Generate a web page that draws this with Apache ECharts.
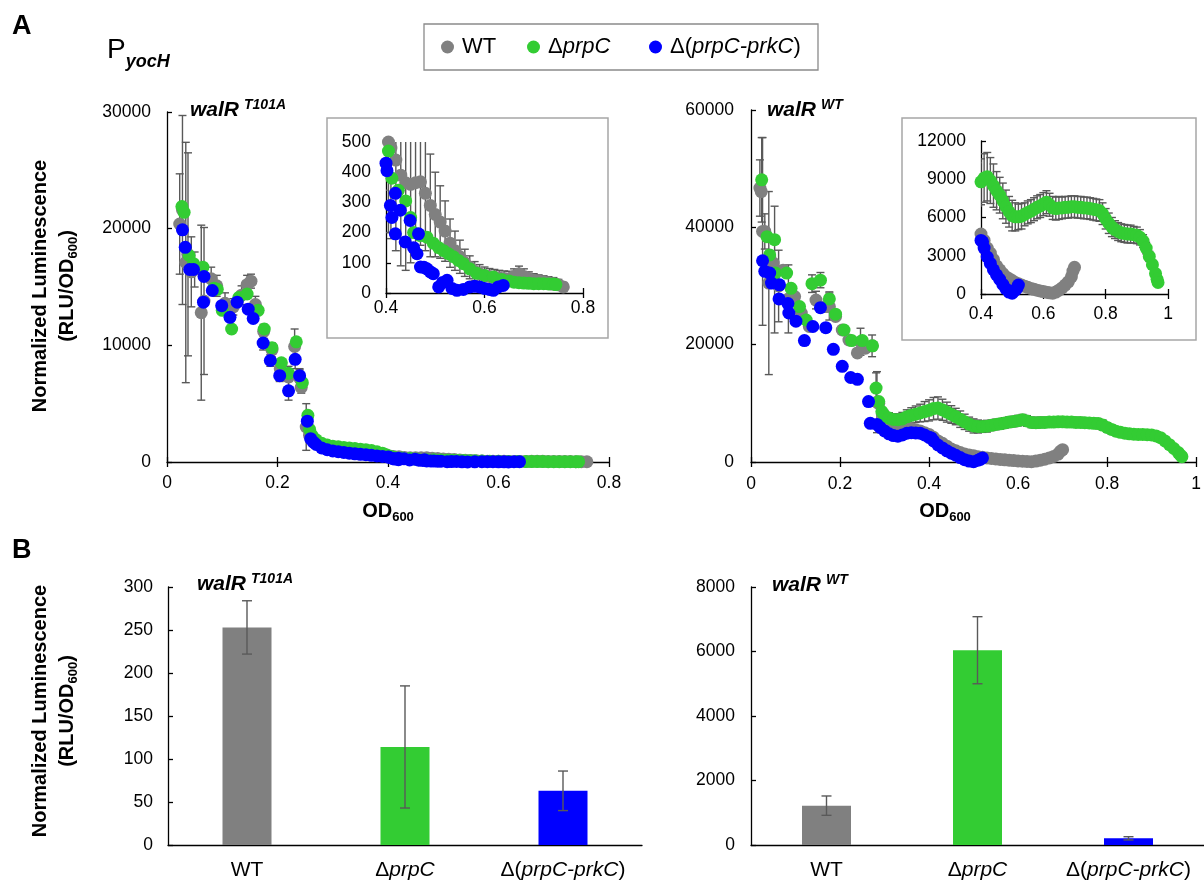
<!DOCTYPE html>
<html><head><meta charset="utf-8">
<script src="https://cdn.jsdelivr.net/npm/echarts@6/dist/echarts.min.js"></script>
<style>html,body{margin:0;padding:0;background:#fff}#c{width:1204px;height:884px}</style>
</head><body><div id="c"></div>
<script>
const FAMILY = '"Liberation Sans", Arial, sans-serif';
const COLORS = ['#808080', '#33cc33', '#0000ff'];
const seriesNames = ['WT', 'ΔprpC', 'Δ(prpC-prkC)'];

// Panel A, walR T101A : [OD600, normalized luminescence, error]
const t101aWT = [[0.023,20400,4300],[0.028,21600,8100],[0.034,17100,10300],[0.038,17800,8700],[0.044,16300,3000],[0.050,16500,1500],[0.062,12800,7500],[0.067,13800,6300],[0.080,15700,1000],[0.090,15100,900],[0.105,13600,900],[0.120,13300,700],[0.135,14300,800],[0.145,15200,800],[0.152,15500,600],[0.160,13500,700],[0.175,11200,600],[0.190,9600,600],[0.205,8000,600],[0.220,7300,900],[0.231,9900,1500],[0.240,7200,700],[0.243,6400,500],[0.252,3000,2000],[0.258,2300,600],
[0.265,1900,400],[0.275,1600,400],[0.285,1400,350],[0.295,1250,300],[0.305,1150,300],[0.315,1100,300],[0.325,1050,300],[0.335,1000,250],[0.345,960,250],[0.355,920,250],[0.365,870,250],[0.375,800,250],[0.385,720,260],[0.395,620,280],[0.405,500,300],[0.410,480,300],[0.420,440,300],[0.430,390,300],[0.440,365,290],[0.450,360,260],[0.460,365,230],[0.470,368,210],[0.480,330,190],[0.490,290,170],[0.500,260,140],[0.510,235,120],[0.520,205,100],[0.530,165,80],[0.540,140,65],[0.550,120,55],[0.560,100,45],[0.570,85,38],[0.580,72,32],[0.590,64,30],[0.600,58,28],[0.610,55,26],[0.620,53,25],[0.630,50,25],[0.640,48,25],[0.650,47,25],[0.660,55,25],[0.670,64,25],[0.680,55,25],[0.690,48,22],[0.700,42,22],[0.710,40,20],[0.720,37,20],[0.730,34,20],[0.740,31,20],[0.750,27,18],[0.760,20,15]];
const t101aPrpC = [[0.027,21900,0],[0.031,21400,0],[0.040,17700,0],[0.048,17000,0],[0.065,16700,0],[0.085,14900,0],[0.091,14800,0],[0.100,13000,0],[0.117,11400,0],[0.130,14100,0],[0.145,14400,0],[0.165,13000,0],[0.176,11400,0],[0.190,9800,0],[0.207,8500,0],[0.220,7600,0],[0.234,10300,0],[0.245,6800,0],[0.255,4000,0],[0.258,2800,0],
[0.262,2300,0],[0.270,1900,0],[0.280,1600,0],[0.290,1450,0],[0.300,1350,0],[0.310,1300,0],[0.320,1250,0],[0.330,1200,0],[0.340,1150,0],[0.350,1100,0],[0.360,1050,0],[0.370,980,0],[0.380,880,0],[0.390,760,0],[0.398,600,0],[0.405,470,0],[0.412,380,0],[0.425,340,0],[0.440,305,0],[0.450,250,0],[0.456,200,0],[0.470,190,0],[0.483,185,0],[0.496,165,0],[0.507,150,0],[0.517,140,0],[0.527,130,0],[0.537,120,0],[0.547,108,0],[0.557,97,0],[0.570,80,0],[0.584,65,0],[0.600,58,0],[0.618,53,0],[0.635,45,0],[0.650,40,0],[0.660,36,0],[0.670,34,0],[0.680,33,0],[0.690,32,0],[0.700,31,0],[0.710,31,0],[0.720,31,0],[0.730,30,0],[0.740,30,0],[0.745,28,0]];
const t101aPrpCPrkC = [[0.028,19900,0],[0.033,18400,0],[0.041,16500,0],[0.048,16500,0],[0.066,13700,0],[0.067,15900,0],[0.082,14700,0],[0.099,13400,0],[0.114,12400,0],[0.127,13700,0],[0.147,13100,0],[0.156,12300,0],[0.174,10200,600],[0.187,8700,500],[0.204,7400,500],[0.220,6100,800],[0.232,8800,800],[0.240,7400,600],[0.254,3500,0],[0.260,2000,0],
[0.265,1700,0],[0.270,1500,0],[0.280,1200,0],[0.290,1050,0],[0.300,950,0],[0.310,880,0],[0.320,820,0],[0.330,760,0],[0.340,700,0],[0.350,660,0],[0.360,620,0],[0.370,570,0],[0.380,520,0],[0.390,470,0],[0.400,430,0],[0.402,405,0],[0.409,290,0],[0.412,250,0],[0.419,330,0],[0.419,196,0],[0.429,274,0],[0.439,169,0],[0.449,240,0],[0.456,150,0],[0.463,130,0],[0.466,196,0],[0.470,86,0],[0.477,85,0],[0.483,80,0],[0.490,70,0],[0.496,64,0],[0.507,20,0],[0.515,35,0],[0.524,42,0],[0.534,15,0],[0.544,9,0],[0.557,12,0],[0.570,20,0],[0.580,22,0],[0.590,20,0],[0.600,15,0],[0.610,12,0],[0.618,9,0],[0.628,20,0],[0.638,25,0]];

// Panel A, walR WT : [OD600, normalized luminescence, error]
const wtWT = [[0.020,46700,4800],[0.023,46100,0],[0.026,39300,16000],[0.031,39300,3000],[0.040,30500,15600],[0.042,35000,0],[0.050,33900,0],[0.053,32800,10800],[0.062,30000,6100],[0.072,32700,0],[0.084,27800,5800],[0.098,28200,0],[0.113,25400,0],[0.131,23100,0],[0.146,27600,1500],[0.168,26500,0],[0.176,26500,2300],[0.190,24800,0],[0.205,22500,0],[0.220,20800,0],[0.239,18600,0],[0.246,20500,2300],[0.257,19400,0],[0.272,19800,1850],[0.283,10200,5200],[0.287,10000,0],
[0.295,8200,0],[0.300,7500,0],[0.310,6800,0],[0.320,6400,0],[0.330,6100,0],[0.340,6000,0],[0.350,5900,0],[0.360,5700,0],[0.370,5500,0],[0.380,5300,0],[0.390,5000,0],[0.400,4700,0],[0.410,4200,0],[0.420,3600,0],[0.430,3200,0],[0.440,2700,0],[0.450,2200,0],[0.460,1900,0],[0.470,1600,0],[0.480,1350,0],[0.490,1200,0],[0.500,1050,0],[0.510,900,0],[0.520,800,0],[0.530,700,0],[0.540,600,0],[0.550,520,0],[0.560,440,0],[0.570,370,0],[0.580,300,0],[0.590,240,0],[0.600,190,0],[0.610,140,0],[0.620,90,0],[0.630,60,0],[0.640,150,0],[0.650,300,0],[0.660,480,0],[0.670,700,0],[0.680,950,0],[0.690,1350,0],[0.695,1800,0],[0.700,2100,0]];
const wtPrpC = [[0.024,48100,7200],[0.036,38400,0],[0.042,35300,0],[0.053,37900,0],[0.055,32200,0],[0.080,32200,0],[0.090,29600,0],[0.109,26500,0],[0.124,24200,0],[0.137,30400,1500],[0.156,31000,1300],[0.176,27800,1200],[0.190,25200,0],[0.209,22500,0],[0.226,20700,0],[0.250,20700,0],[0.273,19800,0],[0.281,12600,2600],[0.287,10300,0],[0.294,8600,0],
[0.300,7900,900],[0.310,7500,900],[0.320,7250,900],[0.330,7200,1000],[0.340,7350,1100],[0.350,7700,1200],[0.360,7950,1300],[0.370,8150,1400],[0.380,8350,1500],[0.390,8600,1700],[0.400,8800,1800],[0.410,9100,1900],[0.420,9200,1900],[0.430,8900,1800],[0.440,8500,1700],[0.450,8100,1500],[0.460,7750,1400],[0.470,7300,1400],[0.480,6850,1300],[0.490,6450,1200],[0.500,6150,1200],[0.510,6050,1100],[0.520,6050,1000],[0.530,6100,1000],[0.540,6250,900],[0.550,6400,900],[0.560,6500,900],[0.570,6650,900],[0.580,6800,900],[0.590,6900,900],[0.600,7050,900],[0.610,7200,900],[0.620,7000,900],[0.630,6750,900],[0.640,6700,900],[0.650,6750,900],[0.660,6750,850],[0.670,6800,850],[0.680,6800,850],[0.690,6850,850],[0.700,6850,850],[0.710,6800,850],[0.720,6800,850],[0.730,6750,850],[0.740,6750,850],[0.750,6700,850],[0.760,6650,850],[0.770,6600,850],[0.780,6550,850],[0.790,6300,850],[0.800,5900,800],[0.810,5550,800],[0.820,5250,750],[0.830,5050,700],[0.840,4900,700],[0.850,4800,700],[0.860,4750,700],[0.870,4700,700],[0.880,4700,700],[0.890,4650,650],[0.900,4600,650],[0.910,4450,600],[0.920,4150,500],[0.930,3600,450],[0.940,2950,400],[0.950,2300,350],[0.960,1600,300],[0.965,1150,250],[0.968,900,200]];
const wtPrpCPrkC = [[0.026,34300,0],[0.031,32500,0],[0.042,32200,0],[0.046,30500,0],[0.063,27800,0],[0.064,30200,0],[0.083,27000,0],[0.085,25400,0],[0.101,24000,0],[0.120,20700,0],[0.139,23100,0],[0.156,26300,0],[0.168,22900,0],[0.185,19200,0],[0.205,16300,0],[0.224,14400,0],[0.239,14100,0],[0.264,10300,0],[0.268,6600,0],[0.283,6400,0],
[0.290,5900,0],[0.300,5300,0],[0.310,4800,0],[0.320,4500,0],[0.330,4400,0],[0.340,4600,0],[0.350,4900,0],[0.360,5000,0],[0.370,4950,0],[0.380,4900,0],[0.390,4600,0],[0.400,4200,0],[0.405,4100,0],[0.410,3600,0],[0.420,2900,0],[0.430,2400,0],[0.440,1900,0],[0.450,1500,0],[0.460,1150,0],[0.470,750,0],[0.480,400,0],[0.490,150,0],[0.500,60,0],[0.510,300,0],[0.515,450,0],[0.520,700,0]];

// Panel B
const barCategories = ['WT', 'ΔprpC', 'Δ(prpC-prkC)'];
const barT101AMean = [253, 114, 63];
const barT101AErr = [31, 71, 23];
const barWTMean = [1220, 6040, 207];
const barWTErr = [300, 1040, 50];

// axis ranges [min, max, interval]
const xMainT101A = [0, 0.8, 0.2], yMainT101A = [0, 30000, 10000];
const xInsetT101A = [0.4, 0.8, 0.2], yInsetT101A = [0, 500, 100];
const xMainWT = [0, 1, 0.2], yMainWT = [0, 60000, 20000];
const xInsetWT = [0.4, 1, 0.2], yInsetWT = [0, 12000, 3000];
const yBarT101A = [0, 300, 50], yBarWT = [0, 8000, 2000];

const mctx = document.createElement('canvas').getContext('2d');
function measure(t, size, weight, style) {
  mctx.font = (style || 'normal') + ' ' + (weight || 'normal') + ' ' + size + 'px ' + FAMILY;
  return mctx.measureText(t).width;
}
// parts: [text, size, weight, style, dy, dxBefore]
function runText(parts, x, baseline, align) {
  let total = 0;
  parts.forEach(p => { total += (p[5] || 0) + measure(p[0], p[1], p[2], p[3]); });
  let cx = align === 'center' ? x - total / 2 : x;
  const els = [];
  parts.forEach(p => {
    cx += (p[5] || 0);
    els.push({
      type: 'text', x: cx, y: baseline + (p[4] || 0) - 0.35 * p[1], silent: true,
      style: { text: p[0], fontSize: p[1], fontWeight: p[2] || 'normal', fontStyle: p[3] || 'normal',
        fontFamily: FAMILY, fill: '#000', align: 'left', verticalAlign: 'middle',
        textAlign: 'left', textVerticalAlign: 'middle' }
    });
    cx += measure(p[0], p[1], p[2], p[3]);
  });
  return els;
}

const LS = { color: '#000', width: 1.3 };
function xPair(grid, r, margin) {
  return [
    { type: 'value', gridIndex: grid, min: r[0], max: r[1], interval: r[2], position: 'bottom',
      axisLine: { show: true, onZero: false, lineStyle: LS },
      axisTick: { show: true, inside: false, length: 5, lineStyle: LS },
      axisLabel: { show: true, margin: margin, fontSize: 17.5, fontFamily: FAMILY, color: '#000',
        formatter: v => String(Math.round(v * 10) / 10) },
      splitLine: { show: false } },
    { type: 'value', gridIndex: grid, min: r[0], max: r[1], interval: r[2], position: 'bottom',
      axisLine: { show: false, onZero: false },
      axisTick: { show: true, inside: true, length: 5, lineStyle: LS },
      axisLabel: { show: false }, splitLine: { show: false } }
  ];
}
function yAx(grid, r, margin) {
  return { type: 'value', gridIndex: grid, min: r[0], max: r[1], interval: r[2], position: 'left',
    axisLine: { show: true, onZero: false, lineStyle: LS },
    axisTick: { show: true, inside: true, length: 5, lineStyle: LS },
    axisLabel: { margin: margin, fontSize: 17.5, fontFamily: FAMILY, color: '#000',
      formatter: v => String(Math.round(v)) },
    splitLine: { show: false } };
}
function richName(n) {
  if (n === 'WT') return '{n|WT}';
  if (n === 'ΔprpC') return '{n|Δ}{i|prpC}';
  return '{n|Δ(}{i|prpC-prkC}{n|)}';
}
function errRender(capHalf) {
  return function (params, api) {
    const x = api.value(0), y = api.value(1), e = api.value(2);
    const p1 = api.coord([x, y + e]), p2 = api.coord([x, y - e]);
    const st = { stroke: '#595959', lineWidth: 1.4, fill: null };
    return { type: 'group', children: [
      { type: 'line', shape: { x1: p1[0], y1: p1[1], x2: p2[0], y2: p2[1] }, style: st },
      { type: 'line', shape: { x1: p1[0] - capHalf, y1: p1[1], x2: p1[0] + capHalf, y2: p1[1] }, style: st },
      { type: 'line', shape: { x1: p2[0] - capHalf, y1: p2[1], x2: p2[0] + capHalf, y2: p2[1] }, style: st }
    ] };
  };
}

const grids = [
  { left: 167, top: 112, width: 442, height: 350 },
  { left: 386, top: 142, width: 197, height: 151 },
  { left: 751, top: 110, width: 450, height: 352 },
  { left: 981, top: 141, width: 187, height: 153 },
  { left: 168, top: 587, width: 474, height: 258 },
  { left: 751, top: 587, width: 466, height: 258 }
];
const xAxes = [].concat(
  xPair(0, xMainT101A, 12), xPair(1, xInsetT101A, 6), xPair(2, xMainWT, 13), xPair(3, xInsetWT, 11)
);
const yAxes = [yAx(0, yMainT101A, 16), yAx(1, yInsetT101A, 15), yAx(2, yMainWT, 17), yAx(3, yInsetWT, 15),
  yAx(4, yBarT101A, 15), yAx(5, yBarWT, 16)];
[4, 5].forEach(g => {
  xAxes.push({ type: 'category', gridIndex: g, data: barCategories, position: 'bottom',
    axisLine: { show: true, onZero: false, lineStyle: LS }, axisTick: { show: false },
    axisLabel: { interval: 0, margin: 15, fontSize: 21, fontFamily: FAMILY, color: '#000',
      formatter: v => richName(v),
      rich: { n: { fontSize: 21, fontFamily: FAMILY, color: '#000' },
              i: { fontSize: 21, fontFamily: FAMILY, color: '#000', fontStyle: 'italic' } } },
    splitLine: { show: false } });
});

const series = [];
const panels = [
  { grid: 0, sets: [t101aWT, t101aPrpC, t101aPrpCPrkC] },
  { grid: 1, sets: [t101aWT, t101aPrpC, t101aPrpCPrkC] },
  { grid: 2, sets: [wtWT, wtPrpC, wtPrpCPrkC] },
  { grid: 3, sets: [wtWT, wtPrpC, wtPrpCPrkC] }
];
panels.forEach(p => {
  p.sets.forEach((set, i) => {
    series.push({ type: 'custom', name: seriesNames[i] + ' error', xAxisIndex: 2 * p.grid, yAxisIndex: p.grid,
      data: set.filter(d => d[2] > 0), encode: { x: 0, y: 1 }, renderItem: errRender(4), clip: true,
      silent: true, animation: false });
    series.push({ type: 'scatter', name: seriesNames[i], xAxisIndex: 2 * p.grid, yAxisIndex: p.grid,
      data: set, encode: { x: 0, y: 1 }, symbol: 'circle', symbolSize: 13, clip: true, silent: true,
      itemStyle: { color: COLORS[i], opacity: 1 }, emphasis: { disabled: true } });
  });
});
[[4, barT101AMean, barT101AErr], [5, barWTMean, barWTErr]].forEach(b => {
  series.push({ type: 'bar', name: 'bar' + b[0], xAxisIndex: 4 + b[0], yAxisIndex: b[0], barWidth: 49,
    silent: true, data: b[1].map((v, i) => ({ value: v, itemStyle: { color: COLORS[i] } })) });
  series.push({ type: 'custom', name: 'barerr' + b[0], xAxisIndex: 4 + b[0], yAxisIndex: b[0],
    data: b[1].map((v, i) => [i, v, b[2][i]]), encode: { x: 0, y: 1 }, renderItem: errRender(5),
    silent: true, z: 5 });
});

const legendBase = { icon: 'circle', itemWidth: 13, itemHeight: 13, padding: 0, itemGap: 0, selectedMode: false,
  top: 36, formatter: n => richName(n),
  textStyle: { fontSize: 22, fontFamily: FAMILY, color: '#000', padding: [0, 0, 0, 3],
    rich: { n: { fontSize: 22, fontFamily: FAMILY, color: '#000' },
            i: { fontSize: 22, fontFamily: FAMILY, color: '#000', fontStyle: 'italic' } } } };
const legends = [
  Object.assign({}, legendBase, { data: ['WT'], left: 441 }),
  Object.assign({}, legendBase, { data: ['ΔprpC'], left: 527 }),
  Object.assign({}, legendBase, { data: ['Δ(prpC-prkC)'], left: 649 })
];

const gfx = [];
gfx.push({ type: 'rect', z: -1, shape: { x: 424, y: 24, width: 394, height: 46 }, style: { fill: '#fff', stroke: '#8a8a8a', lineWidth: 1.3 } });
gfx.push({ type: 'rect', z: -1, shape: { x: 327, y: 118, width: 281, height: 220 }, style: { fill: '#fff', stroke: '#a6a6a6', lineWidth: 1.5 } });
gfx.push({ type: 'rect', z: -1, shape: { x: 902, y: 118, width: 294, height: 222 }, style: { fill: '#fff', stroke: '#a6a6a6', lineWidth: 1.5 } });
gfx.push(...runText([['A', 27, 'bold']], 12, 36));
gfx.push(...runText([['B', 27, 'bold']], 12, 560));
gfx.push(...runText([['P', 28, 'normal'], ['yocH', 18, 'bold', 'italic', 8]], 107, 60));
gfx.push(...runText([['walR', 21, 'bold', 'italic'], ['T101A', 14, 'bold', 'italic', -8, 5]], 190, 118));
gfx.push(...runText([['walR', 21, 'bold', 'italic'], ['WT', 14, 'bold', 'italic', -8, 5]], 767, 118));
gfx.push(...runText([['walR', 21, 'bold', 'italic'], ['T101A', 14, 'bold', 'italic', -8, 5]], 197, 592));
gfx.push(...runText([['walR', 21, 'bold', 'italic'], ['WT', 14, 'bold', 'italic', -8, 5]], 772, 593));
gfx.push(...runText([['OD', 20, 'bold'], ['600', 13, 'bold', 'normal', 4]], 388, 518, 'center'));
gfx.push(...runText([['OD', 20, 'bold'], ['600', 13, 'bold', 'normal', 4]], 945, 518, 'center'));
[286, 711].forEach(cy => {
  gfx.push({ type: 'group', x: 0, y: cy, rotation: Math.PI / 2, children: [].concat(
    runText([['Normalized Luminescence', 20, 'bold']], 0, 47, 'center'),
    runText([['(RLU/OD', 20, 'bold'], ['600', 13, 'bold', 'normal', 4], [')', 20, 'bold']], 0, 74, 'center')
  ) });
});

const chart = echarts.init(document.getElementById('c'), null, { renderer: 'canvas' });
chart.setOption({
  animation: false,
  backgroundColor: '#fff',
  grid: grids,
  xAxis: xAxes,
  yAxis: yAxes,
  legend: legends,
  graphic: { elements: gfx },
  series: series
});
</script>
</body></html>
